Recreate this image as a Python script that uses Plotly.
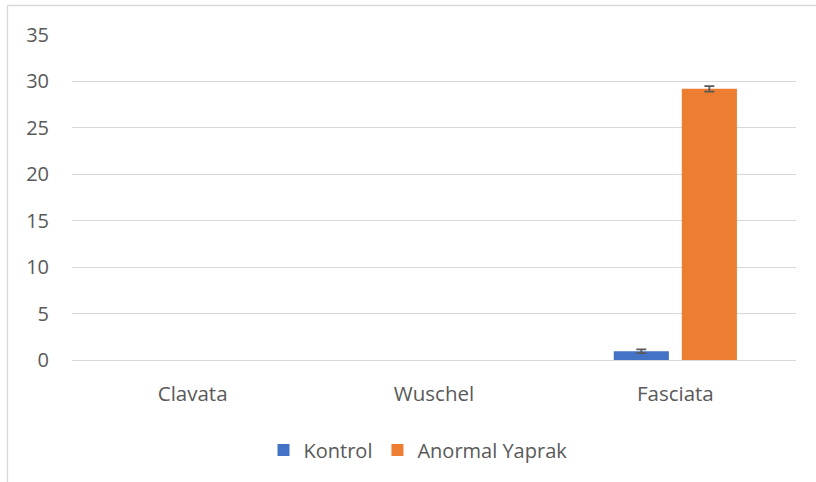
import plotly.graph_objects as go

categories = ["Clavata", "Wuschel", "Fasciata"]
kontrol = [None, None, 0.95]
kontrol_err = [0, 0, 0.2]
anormal = [None, None, 29.2]
anormal_err = [0, 0, 0.3]
y_ticks = [0, 5, 10, 15, 20, 25, 30, 35]

W, H = 816, 482
ML, MR, MT, MB = 72, 20, 35, 122
PW, PH = W - ML - MR, H - MT - MB

FONT = "Open Sans"
TXT = "#595959"
GRID = "#D9D9D9"

fig = go.Figure()
fig.add_trace(go.Bar(
    name="Kontrol", x=categories, y=kontrol,
    marker=dict(color="#4472C4", line=dict(width=0)),
    error_y=dict(type="data", array=kontrol_err, visible=True,
                 color="#595959", thickness=1.8, width=5),
))
fig.add_trace(go.Bar(
    name="Anormal Yaprak", x=categories, y=anormal,
    marker=dict(color="#ED7D31", line=dict(width=0)),
    error_y=dict(type="data", array=anormal_err, visible=True,
                 color="#595959", thickness=1.8, width=5),
))

def px_x(p):
    return (p - ML) / PW

def px_y(p):
    return 1 - (p - MT) / PH

fig.add_shape(type="rect", xref="paper", yref="paper",
              x0=px_x(7.5), x1=px_x(W + 40), y0=px_y(H + 40), y1=px_y(5.5),
              line=dict(color=GRID, width=1.3), fillcolor="rgba(0,0,0,0)", layer="below")

fig.update_layout(
    width=W, height=H,
    margin=dict(l=ML, r=MR, t=MT, b=MB),
    paper_bgcolor="white", plot_bgcolor="white",
    font=dict(family=FONT, size=20, color=TXT),
    barmode="group", bargap=0.436, bargroupgap=0.19,
    showlegend=True,
    legend=dict(orientation="h", x=px_x(418), xanchor="center",
                y=px_y(450), yanchor="middle",
                font=dict(family=FONT, size=20, color=TXT),
                itemwidth=30, tracegroupgap=0),
    xaxis=dict(showgrid=False, showline=False, zeroline=False, ticks="",
               tickfont=dict(family=FONT, size=20.5, color=TXT),
               ticklabelstandoff=19),
    yaxis=dict(range=[0, 35], tickvals=y_ticks, showgrid=True, gridcolor=GRID,
               gridwidth=1.3, zeroline=True, zerolinecolor=GRID, zerolinewidth=1.3,
               showline=False, ticks="",
               tickfont=dict(family=FONT, size=20, color=TXT),
               ticklabelstandoff=22),
)

fig.write_html("out.html", config={"displayModeBar": False},
               post_script="document.body.style.margin='0';document.body.style.overflow='hidden';")
